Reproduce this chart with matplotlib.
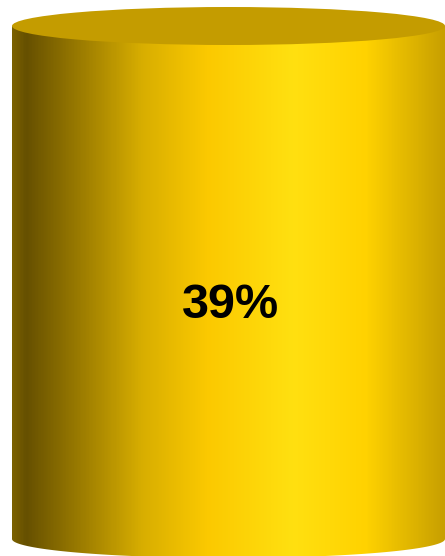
import numpy as np
import matplotlib
matplotlib.use("Agg")
import matplotlib.pyplot as plt
from matplotlib.patches import Ellipse, PathPatch
from matplotlib.path import Path
from matplotlib.colors import LinearSegmentedColormap

# value shown on the cylinder
value = [39]
label = [f"{v}%" for v in value]

# horizontal shading of the cylinder body (position across width, colour)
stop_pos = [0.0, 0.03, 0.30, 0.45, 0.65, 0.82, 1.0]
stop_col = ["#7a6000", "#665000", "#d8ae00", "#fbc900", "#ffe010", "#ffd200", "#c8a000"]
top_col = "#c49c00"

W, H = 445, 556
fig = plt.figure(figsize=(W / 100, H / 100), dpi=100)
ax = fig.add_axes([0, 0, 1, 1])
ax.set_xlim(0, W)
ax.set_ylim(H, 0)
ax.axis("off")

# cylinder geometry (pixels)
left, right = 12, 445
cx = (left + right) / 2
rx = (right - left) / 2
ry = 19
top_y, bot_y = 26, 539

cmap = LinearSegmentedColormap.from_list("cyl", list(zip(stop_pos, stop_col)))
grad = np.linspace(0, 1, 400).reshape(1, -1)
img = ax.imshow(grad, cmap=cmap, aspect="auto", extent=[left, right, bot_y + ry, top_y],
                interpolation="bilinear")

# body outline: rectangle + lower half ellipse
t = np.linspace(0, np.pi, 100)
xs = [left, right] + list(cx + rx * np.cos(t)) + [left]
ys = [top_y, top_y] + list(bot_y + ry * np.sin(t)) + [top_y]
body = Path(np.column_stack([xs, ys]))
clip = PathPatch(body, transform=ax.transData, facecolor="none", edgecolor="none")
ax.add_patch(clip)
img.set_clip_path(clip)

ax.add_patch(Ellipse((cx, top_y), 2 * rx, 2 * ry, facecolor=top_col, edgecolor="none"))

ax.text(230, 305, label[0], ha="center", va="center", fontsize=35, fontweight="bold",
        family="Liberation Sans", color="black")

fig.savefig("out.png", dpi=100)
